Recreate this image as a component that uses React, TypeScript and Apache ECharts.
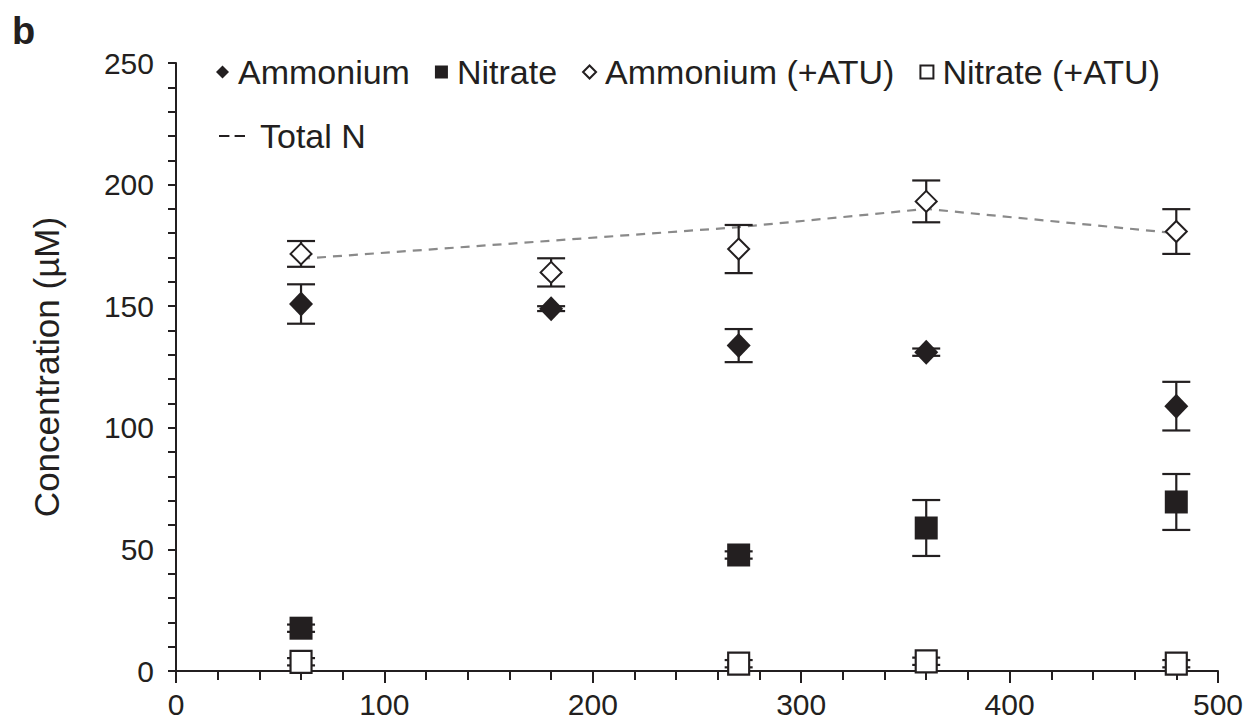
import React, { useEffect, useRef } from "react";
import * as echarts from "echarts";

const timeAmmonium = [60, 180, 270, 360, 480];
const ammonium = [150.9, 149, 133.8, 131.1, 108.9];
const ammoniumErr = [8.1, 1, 6.8, 1.5, 10];

const timeNitrate = [60, 270, 360, 480];
const nitrate = [17.6, 47.7, 58.8, 69.5];
const nitrateErr = [1.5, 1.5, 11.5, 11.5];

const timeAmmoniumATU = [60, 180, 270, 360, 480];
const ammoniumATU = [171.5, 163.9, 173.5, 193.1, 180.7];
const ammoniumATUErr = [5.3, 5.8, 9.9, 8.6, 9.2];

const timeNitrateATU = [60, 270, 360, 480];
const nitrateATU = [3.8, 3, 4, 3];
const nitrateATUErr = [1.5, 1.5, 1.5, 1.5];

const timeTotalN = [60, 270, 360, 480];
const totalN = [169.5, 182.5, 190, 180];

const xTicks = [0, 100, 200, 300, 400, 500];
const yTicks = [0, 50, 100, 150, 200, 250];

const INK = "#231f20";
const FONT = "'Liberation Sans', Arial, Helvetica, sans-serif";

const pts = (xs: number[], ys: number[]) => xs.map((x, i) => [x, ys[i]]);
const errs = (xs: number[], ys: number[], es: number[]) =>
  xs.map((x, i) => [x, ys[i] - es[i], ys[i] + es[i]]);

function errorSeries(name: string, data: number[][]) {
  return {
    type: "custom",
    name,
    z: 2,
    silent: true,
    renderItem: (params: any, api: any) => {
      const x = api.value(0);
      const lo = api.value(1);
      const hi = api.value(2);
      const top = api.coord([x, hi]);
      const bot = api.coord([x, lo]);
      const w = 14;
      const style = { stroke: INK, lineWidth: 2.2 };
      return {
        type: "group",
        children: [
          { type: "line", shape: { x1: top[0], y1: top[1], x2: bot[0], y2: bot[1] }, style },
          { type: "line", shape: { x1: top[0] - w, y1: top[1], x2: top[0] + w, y2: top[1] }, style },
          { type: "line", shape: { x1: bot[0] - w, y1: bot[1], x2: bot[0] + w, y2: bot[1] }, style },
        ],
      };
    },
    encode: { x: 0, y: [1, 2] },
    data,
  };
}

export default function App() {
  const ref = useRef<HTMLDivElement>(null);
  useEffect(() => {
    if (!ref.current) return;
    const chart = echarts.init(ref.current, null, { renderer: "svg" });
    chart.setOption({
      animation: false,
      backgroundColor: "#ffffff",
      textStyle: { fontFamily: FONT, color: INK },
      grid: { left: 176, right: 27, top: 63, bottom: 51, containLabel: false },
      graphic: [
        {
          type: "text",
          left: 12,
          top: 12,
          style: { text: "b", font: `bold 38px ${FONT}`, fill: INK },
        },
      ],
      legend: [
        {
          left: 211,
          top: 50,
          itemGap: 25,
          itemWidth: 13,
          itemHeight: 13,
          textStyle: { fontSize: 34, color: INK, fontFamily: FONT, padding: [0, 0, 0, 4] },
          data: [
            { name: "Ammonium", icon: "diamond" },
            { name: "Nitrate", icon: "rect" },
            { name: "Ammonium (+ATU)", icon: "diamond" },
            { name: "Nitrate (+ATU)", icon: "rect" },
          ],
        },
        {
          left: 214,
          top: 114,
          itemWidth: 26,
          itemHeight: 2.5,
          textStyle: { fontSize: 34, color: INK, fontFamily: FONT, padding: [0, 0, 0, 10] },
          data: [
            {
              name: "Total N",
              icon: "path://M0,0h10v2h-10z M15,0h10v2h-10z",
              itemStyle: { color: INK },
            },
          ],
        },
      ],
      xAxis: {
        type: "value",
        min: xTicks[0],
        max: xTicks[xTicks.length - 1],
        interval: 100,
        splitLine: { show: false },
        axisLine: { show: true, onZero: false, lineStyle: { color: INK, width: 2 } },
        axisTick: { show: true, length: 12, lineStyle: { color: INK, width: 2 } },
        minorTick: { show: true, splitNumber: 5, length: 9, lineStyle: { color: INK, width: 2 } },
        minorSplitLine: { show: false },
        axisLabel: { fontSize: 30, color: INK, margin: 18, fontFamily: FONT },
      },
      yAxis: {
        type: "value",
        min: yTicks[0],
        max: yTicks[yTicks.length - 1],
        interval: 50,
        name: "Concentration (µM)",
        nameLocation: "middle",
        nameGap: 112,
        nameTextStyle: { fontSize: 35, color: INK, fontFamily: FONT },
        splitLine: { show: false },
        axisLine: { show: true, onZero: false, lineStyle: { color: INK, width: 2 } },
        axisTick: { show: true, length: 8, lineStyle: { color: INK, width: 2 } },
        minorTick: { show: true, splitNumber: 5, length: 8, lineStyle: { color: INK, width: 2 } },
        minorSplitLine: { show: false },
        axisLabel: { fontSize: 30, color: INK, margin: 22, fontFamily: FONT },
      },
      series: [
        {
          type: "line",
          name: "Total N",
          data: pts(timeTotalN, totalN),
          symbol: "none",
          z: 1,
          lineStyle: { color: "#8a8a8a", width: 2.2, type: [9, 7] },
          itemStyle: { color: INK },
        },
        errorSeries("errAmmonium", errs(timeAmmonium, ammonium, ammoniumErr)),
        errorSeries("errNitrate", errs(timeNitrate, nitrate, nitrateErr)),
        errorSeries("errAmmoniumATU", errs(timeAmmoniumATU, ammoniumATU, ammoniumATUErr)),
        errorSeries("errNitrateATU", errs(timeNitrateATU, nitrateATU, nitrateATUErr)),
        {
          type: "scatter",
          name: "Ammonium",
          z: 5,
          symbol: "diamond",
          symbolSize: [24, 25],
          itemStyle: { color: INK, borderColor: INK, borderWidth: 0, opacity: 1 },
          data: pts(timeAmmonium, ammonium),
        },
        {
          type: "scatter",
          name: "Nitrate",
          z: 5,
          symbol: "rect",
          symbolSize: [23, 23],
          itemStyle: { color: INK, borderColor: INK, borderWidth: 0, opacity: 1 },
          data: pts(timeNitrate, nitrate),
        },
        {
          type: "scatter",
          name: "Ammonium (+ATU)",
          z: 5,
          symbol: "diamond",
          symbolSize: [21, 21],
          itemStyle: { color: "#ffffff", borderColor: INK, borderWidth: 2, opacity: 1 },
          data: pts(timeAmmoniumATU, ammoniumATU),
        },
        {
          type: "scatter",
          name: "Nitrate (+ATU)",
          z: 5,
          symbol: "rect",
          symbolSize: [21, 22],
          itemStyle: { color: "#ffffff", borderColor: INK, borderWidth: 2.2, opacity: 1 },
          data: pts(timeNitrateATU, nitrateATU),
        },
      ],
    });
    return () => chart.dispose();
  }, []);
  return (
    <div
      ref={ref}
      style={{ position: "fixed", left: 0, top: 0, width: 1246, height: 722, background: "#fff" }}
    />
  );
}
